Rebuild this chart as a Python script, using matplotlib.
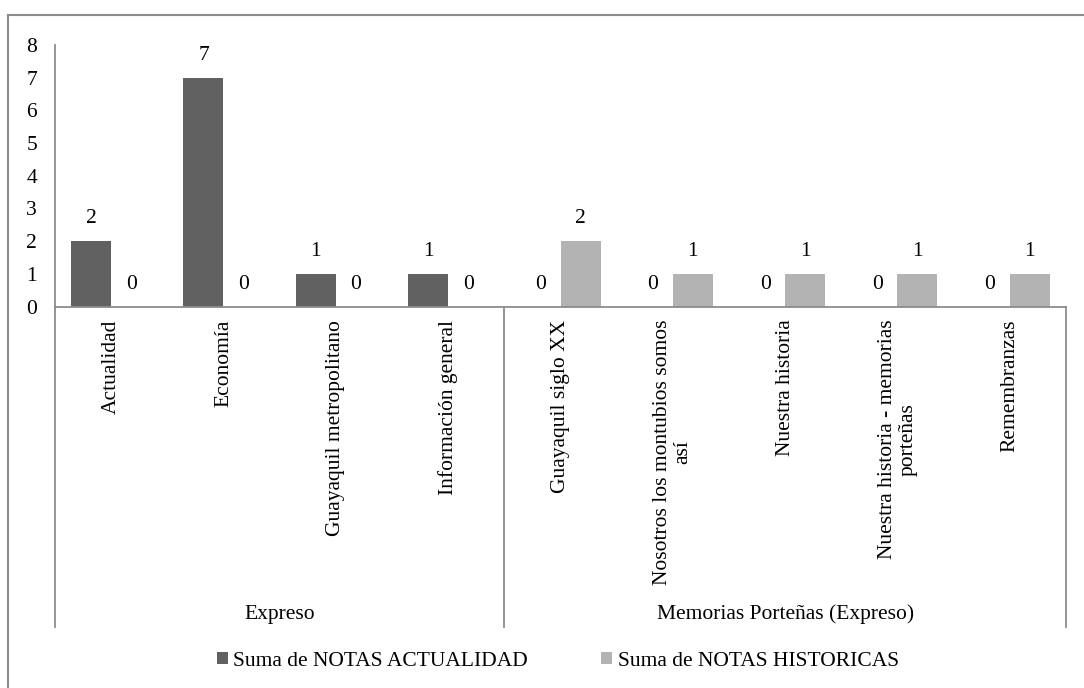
import matplotlib
matplotlib.use("Agg")
import matplotlib.pyplot as plt
from matplotlib.lines import Line2D
from matplotlib.patches import Patch
import matplotlib.transforms as mtransforms

categories = ["Actualidad", "Economía", "Guayaquil metropolitano", "Información general",
              "Guayaquil siglo XX", "Nosotros los montubios somos\nasí", "Nuestra historia",
              "Nuestra historia - memorias\nporteñas", "Remembranzas"]
groups = ["Expreso", "Memorias Porteñas (Expreso)"]
group_sizes = [4, 5]
notas_actualidad = [2, 7, 1, 1, 0, 0, 0, 0, 0]
notas_historicas = [0, 0, 0, 0, 2, 1, 1, 1, 1]
series_names = ["Suma de NOTAS ACTUALIDAD", "Suma de NOTAS HISTORICAS"]
yticks = [0, 1, 2, 3, 4, 5, 6, 7, 8]

plt.rcParams['font.family'] = ['Liberation Serif', 'DejaVu Serif']
FS = 15.5
DARK = "#616161"
LIGHT = "#b3b3b3"
AXC = "#8c8c8c"

W, H = 1084, 688
fig = plt.figure(figsize=(W / 100, H / 100), dpi=100)
fig.patch.set_facecolor("white")

left_px, right_px, top_px, bot_px = 55, 1066, 45, 306.5
ax = fig.add_axes([left_px / W, 1 - bot_px / H, (right_px - left_px) / W, (bot_px - top_px) / H])

n = len(categories)
x = list(range(n))
bw = 40 / ((right_px - left_px) / n)
b1 = ax.bar([i - bw / 2 for i in x], notas_actualidad, width=bw, color=DARK, label=series_names[0])
b2 = ax.bar([i + bw / 2 for i in x], notas_historicas, width=bw, color=LIGHT, label=series_names[1])

for bars, vals in ((b1, notas_actualidad), (b2, notas_historicas)):
    for r, v in zip(bars, vals):
        ax.annotate(str(v), (r.get_x() + r.get_width() / 2, v), xytext=(0, 16),
                    textcoords="offset points", ha="center", va="center", fontsize=FS,
                    clip_on=False)

ax.set_xlim(-0.5, n - 0.5)
ax.set_ylim(0, 8)
ax.set_yticks(yticks)
ax.set_yticklabels([str(t) for t in yticks], fontsize=FS)
ax.tick_params(axis="y", length=0, pad=13)
ax.set_xticks(x)
ax.set_xticklabels(categories, rotation=90, fontsize=FS, va="top", ha="center",
                   multialignment="center", linespacing=1.12)
ax.tick_params(axis="x", length=0, pad=9.5)
for s in ("top", "right"):
    ax.spines[s].set_visible(False)
for s in ("left", "bottom"):
    ax.spines[s].set_color(AXC)
    ax.spines[s].set_linewidth(1.3)

# group separators and labels
trans = mtransforms.blended_transform_factory(ax.transData, ax.transAxes)
sep_bottom = -(627 - bot_px) / (bot_px - top_px)
lbl_y = -(614 - bot_px) / (bot_px - top_px)
edges = [-0.5]
for g in group_sizes:
    edges.append(edges[-1] + g)
for e in edges:
    ax.add_line(Line2D([e, e], [0, sep_bottom], transform=trans, color=AXC, lw=1.3, clip_on=False))
for gi, g in enumerate(groups):
    ax.text((edges[gi] + edges[gi + 1]) / 2, lbl_y, g, transform=trans, ha="center",
            va="center", fontsize=FS)

# outer chart border (top and left visible)
fig.add_artist(Line2D([8 / W, 1], [1 - 15 / H, 1 - 15 / H], transform=fig.transFigure, color=AXC, lw=1.5))
fig.add_artist(Line2D([8 / W, 8 / W], [0, 1 - 15 / H], transform=fig.transFigure, color=AXC, lw=1.5))

handles = [Patch(facecolor=DARK, edgecolor="none"), Patch(facecolor=LIGHT, edgecolor="none")]
fig.legend(handles, series_names, loc="center", bbox_to_anchor=(558 / W, 1 - 661 / H),
           ncol=2, frameon=False, fontsize=FS, handlelength=0.5, handleheight=0.5,
           handletextpad=0.25, columnspacing=3.4, borderaxespad=0)

fig.savefig("out.png", dpi=100, facecolor="white")
